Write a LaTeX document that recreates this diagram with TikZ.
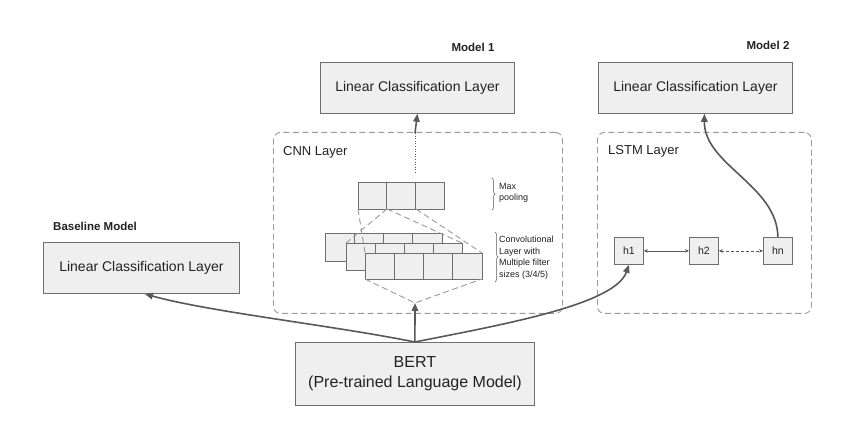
\documentclass[tikz,border=0pt]{standalone}
\usepackage{fontspec}
\setmainfont{Liberation Sans}
\usetikzlibrary{arrows.meta,decorations.pathreplacing}
\definecolor{boxfill}{HTML}{EFEFEF}
\definecolor{boxline}{HTML}{6E6E6E}
\definecolor{arr}{HTML}{595959}
\definecolor{dashc}{HTML}{9A9A9A}
\definecolor{txt}{HTML}{222222}
\begin{document}
\begin{tikzpicture}[x=1pt,y=-1pt,
  every node/.style={text=txt},
  box/.style={draw=boxline,fill=boxfill,line width=0.8pt,inner sep=0pt,anchor=north west},
  bigbox/.style={box,minimum width=194pt,minimum height=51pt,font=\fontsize{14}{16}\selectfont},
  hbox/.style={box,minimum width=29pt,minimum height=27pt,font=\fontsize{10.5}{12}\selectfont},
  region/.style={draw=dashc,line width=0.9pt,dash pattern=on 6pt off 3.5pt,rounded corners=7pt,inner sep=0pt,anchor=north west},
  cell/.style={draw=boxline,fill=boxfill,line width=0.7pt},
  guide/.style={draw=dashc,line width=0.9pt,dash pattern=on 6pt off 3.5pt},
  arrowline/.style={draw=arr,line width=1.6pt,-{Triangle[length=8pt,width=6.5pt]}},
  link/.style={draw=arr,line width=0.7pt,{Stealth[length=4pt,width=3.5pt]}-{Stealth[length=4pt,width=3.5pt]}},
  title/.style={font=\bfseries\fontsize{11.5}{13}\selectfont,inner sep=0pt},
  regtitle/.style={font=\fontsize{13}{15}\selectfont,inner sep=0pt,anchor=west},
  note/.style={font=\fontsize{9}{11.6}\selectfont,inner sep=0pt,anchor=north west,align=left},
  brc/.style={draw=arr,line width=0.5pt,decorate,decoration={brace,amplitude=3pt}}
]
\path[use as bounding box,fill=white] (0,0) rectangle (848,427);

% dashed regions
\node[region,minimum width=289pt,minimum height=181pt] (cnn) at (273,132) {};
\node[region,minimum width=214pt,minimum height=181pt] (lstm) at (597,132) {};
\node[regtitle] (cnnt) at (283,152) {CNN Layer};
\node[regtitle] (lstmt) at (608,151) {LSTM Layer};

% boxes
\node[bigbox] (m1) at (320,62) {Linear Classification Layer};
\node[bigbox] (m2) at (598,62) {Linear Classification Layer};
\node[bigbox,minimum width=196pt] (base) at (43,242) {Linear Classification Layer};
\node[box,minimum width=239pt,minimum height=63pt,align=center,font=\fontsize{16}{20}\selectfont] (bert) at (295,342) {BERT\\(Pre-trained Language Model)};

\node[title] (m1t) at (473,47) {Model 1};
\node[title] (m2t) at (768,45) {Model 2};
\node[title,anchor=west] (bt) at (53,226) {Baseline Model};

% max pooling cells
\foreach \i in {0,1,2} \draw[cell] (358+\i*28.67,182) rectangle ++(28.67,27);
% conv rows
\foreach \i in {0,...,3} \draw[cell] (325+\i*29.25,233) rectangle ++(29.25,28);
\foreach \i in {0,...,3} \draw[cell] (346+\i*29,243) rectangle ++(29,27);
\foreach \i in {0,...,3} \draw[cell] (365+\i*29.25,253) rectangle ++(29.25,26);

\coordinate (p1) at (358,209);
\coordinate (p2) at (387,209);
\coordinate (p3) at (416,209);
\coordinate (r2l) at (346,243);
\coordinate (r2r) at (462,243);
\coordinate (r3l) at (365,253);
\coordinate (r3r) at (482,253);
\coordinate (r3bl) at (365,279);
\coordinate (r3br) at (482,279);
\coordinate (apex) at (415,303);
\draw[guide] (p1) -- (r3l);
\draw[guide] (p2) -- (r2l);
\draw[guide] (p2) -- (r2r);
\draw[guide] (p3) -- (r3r);
\draw[guide] (r3bl) -- (apex) -- (r3br);

% braces and notes
\draw[brc] (492,178) -- (492,210);
\node[note] (mp) at (499,183) {Max\\pooling};
\draw[brc] (495,232) -- (495,282);
\node[note] (cv) at (499,236) {Convolutional\\Layer with\\Multiple filter\\sizes (3/4/5)};

% lstm cells
\node[hbox] (h1) at (614,237) {h1};
\node[hbox] (h2) at (689,237) {h2};
\node[hbox] (hn) at (763,237) {hn};
\draw[link] (h1) -- (h2);
\draw[link,dash pattern=on 3pt off 2pt] (h2) -- (hn);

% connectors
\coordinate (cnntop) at (415,133);
\coordinate (dotend) at (415,173);
\draw[arr,line width=0.6pt,dotted] (cnntop) -- (dotend);
\draw[arrowline] (cnntop) -- (m1.south);
\draw[arrowline] (bert.north) -- (apex);
\draw[arrowline] (bert.north) .. controls (330,325) and (210,312) .. (145,294);
\draw[arrowline] (bert.north) .. controls (500,325) and (615,305) .. (h1.south);
\draw[arrowline] (hn.north) .. controls (777,185) and (704,165) .. ([xshift=9pt]m2.south);
\end{tikzpicture}
\end{document}
